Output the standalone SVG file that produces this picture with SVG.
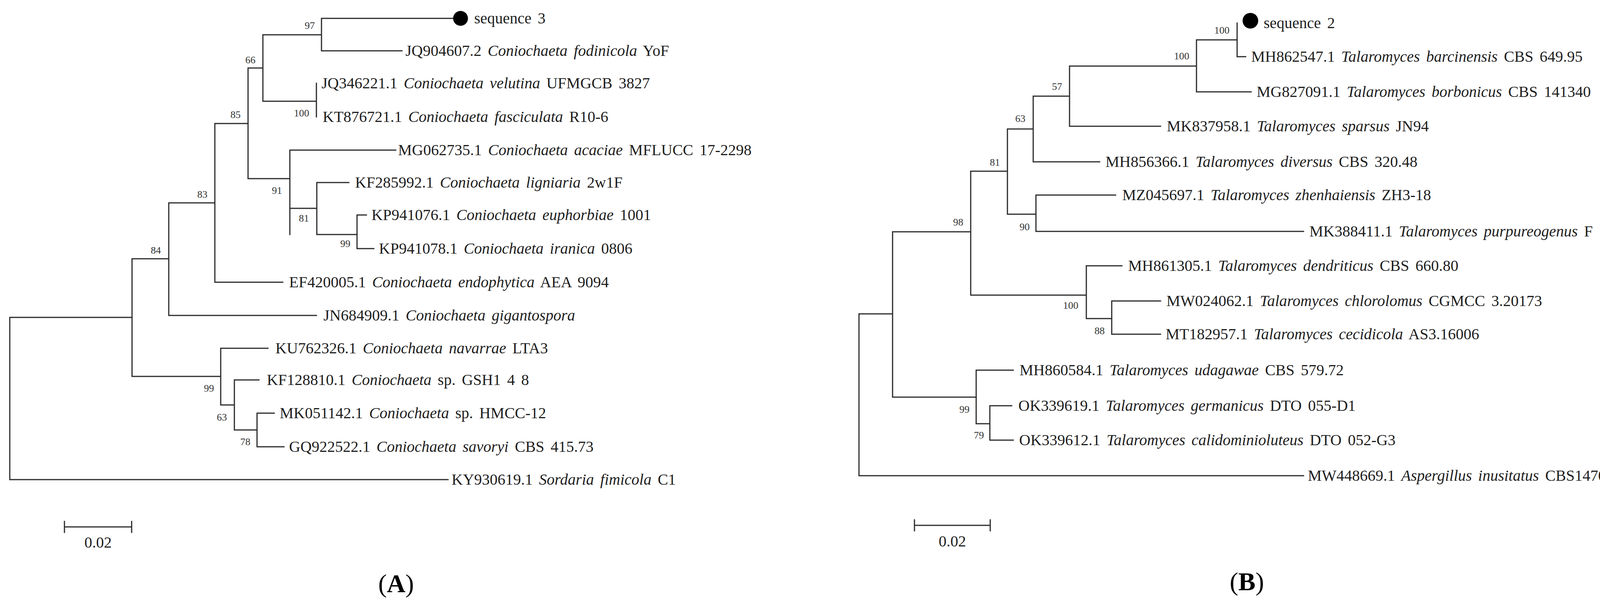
<svg xmlns="http://www.w3.org/2000/svg" width="4211" height="1535" viewBox="0 0 4211 1535">
<style>
.e{stroke:#2a2a2a;stroke-width:3;fill:none;stroke-linecap:square}
.l{font-family:"Liberation Serif",serif;font-size:40px;word-spacing:6px;fill:#1e1e1e}
.b{font-family:"Liberation Serif",serif;font-size:26px;fill:#333;text-anchor:middle}
.i{font-style:italic}
.p{font-family:"Liberation Serif",serif;font-size:66px;fill:#000;text-anchor:middle}
</style>
<rect width="4211" height="1535" fill="#fff"/>
<g id="connectors">
<path class="e" d="M25,812V1227M25,812H338M25,1227H1147
M338,662V963M338,662H432M338,963H565
M432,519V807M432,519H550M432,807H810
M550,316V722M550,316H635M550,722H724
M635,174V457M635,174H673M635,457H742
M673,89V259M673,89H823M673,259H810
M823,47V130M823,47H1160M823,130H1029
M810,213V299
M742,384V600M742,384H1013M742,533H811
M811,467V600M811,467H893M811,600H914
M914,550V636M914,550H938M914,636H957
M565,891V1036M565,891H686M565,1036H600
M600,972V1100M600,972H663M600,1100H658
M658,1057V1143M658,1057H702M658,1143H727
M165,1334V1362M337,1334V1362M165,1348H337"/>
<path class="e" d="M2199,803V1217M2199,803H2285M2199,1217H3337
M2285,593V1016M2285,593H2485M2285,1016H2499
M2485,438V755M2485,438H2579M2485,755H2781
M2579,330V548M2579,330H2645M2579,548H2652
M2645,246V414M2645,246H2738M2645,414H2815
M2738,169V323M2738,169H3063M2738,323H2971
M3063,102V235M3063,102H3167M3063,235H3203
M3167,59V145M3167,145H3189
M2652,499V592M2652,499H2856M2652,592H3337
M2781,680V815M2781,680H2872M2781,815H2846
M2846,770V855M2846,770H2971M2846,855H2971
M2499,947V1084M2499,947H2594M2499,1084H2534
M2534,1038V1126M2534,1038H2590M2534,1126H2594
M2341,1330V1358M2535,1330V1358M2341,1344H2535"/>
</g>
<g id="panelA">
<g id="seq3"><circle cx="1179" cy="47" r="19" fill="#000"/><text class="l" x="1214" y="60" font-size="36">sequence 3</text></g>
<g id="a1"><text class="l" x="1038" y="143">JQ904607.2 <tspan class="i">Coniochaeta fodinicola</tspan> YoF</text></g>
<g id="a2"><text class="l" x="823" y="226">JQ346221.1 <tspan class="i">Coniochaeta velutina</tspan> UFMGCB 3827</text></g>
<g id="a3"><text class="l" x="826" y="312">KT876721.1 <tspan class="i">Coniochaeta fasciculata</tspan> R10-6</text></g>
<g id="a4"><text class="l" x="1019" y="397">MG062735.1 <tspan class="i">Coniochaeta acaciae</tspan> MFLUCC 17-2298</text></g>
<g id="a5"><text class="l" x="909" y="480">KF285992.1 <tspan class="i">Coniochaeta ligniaria</tspan> 2w1F</text></g>
<g id="a6"><text class="l" x="951" y="563">KP941076.1 <tspan class="i">Coniochaeta euphorbiae</tspan> 1001</text></g>
<g id="a7"><text class="l" x="970" y="649">KP941078.1 <tspan class="i">Coniochaeta iranica</tspan> 0806</text></g>
<g id="a8"><text class="l" x="740" y="735">EF420005.1 <tspan class="i">Coniochaeta endophytica</tspan> AEA 9094</text></g>
<g id="a9"><text class="l" x="828" y="820">JN684909.1 <tspan class="i">Coniochaeta gigantospora</tspan></text></g>
<g id="a10"><text class="l" x="705" y="904">KU762326.1 <tspan class="i">Coniochaeta navarrae</tspan> LTA3</text></g>
<g id="a11"><text class="l" x="683" y="985">KF128810.1 <tspan class="i">Coniochaeta</tspan> sp. GSH1 4 8</text></g>
<g id="a12"><text class="l" x="716" y="1070">MK051142.1 <tspan class="i">Coniochaeta</tspan> sp. HMCC-12</text></g>
<g id="a13"><text class="l" x="740" y="1156">GQ922522.1 <tspan class="i">Coniochaeta savoryi</tspan> CBS 415.73</text></g>
<g id="a14"><text class="l" x="1156" y="1240">KY930619.1 <tspan class="i">Sordaria fimicola</tspan> C1</text></g>
<g id="bsA">
<text class="b" x="793" y="74">97</text><text class="b" x="641" y="162">66</text><text class="b" x="772" y="298">100</text>
<text class="b" x="603" y="302">85</text><text class="b" x="709" y="496">91</text><text class="b" x="518" y="506">83</text>
<text class="b" x="778" y="567">81</text><text class="b" x="884" y="632">99</text><text class="b" x="399" y="649">84</text>
<text class="b" x="535" y="1002">99</text><text class="b" x="568" y="1076">63</text><text class="b" x="628" y="1139">78</text>
</g>
<text class="l" x="251" y="1401" text-anchor="middle" font-size="34">0.02</text>
<text class="p" x="1014" y="1515">(<tspan font-weight="bold">A</tspan>)</text>
</g>
<g id="panelB">
<g id="seq2"><circle cx="3201" cy="53" r="20" fill="#000"/><text class="l" x="3235" y="72" font-size="36">sequence 2</text></g>
<g id="b1"><text class="l" x="3203" y="158">MH862547.1 <tspan class="i">Talaromyces barcinensis</tspan> CBS 649.95</text></g>
<g id="b2"><text class="l" x="3217" y="248">MG827091.1 <tspan class="i">Talaromyces borbonicus</tspan> CBS 141340</text></g>
<g id="b3"><text class="l" x="2987" y="336">MK837958.1 <tspan class="i">Talaromyces sparsus</tspan> JN94</text></g>
<g id="b4"><text class="l" x="2830" y="427">MH856366.1 <tspan class="i">Talaromyces diversus</tspan> CBS 320.48</text></g>
<g id="b5"><text class="l" x="2873" y="512">MZ045697.1 <tspan class="i">Talaromyces zhenhaiensis</tspan> ZH3-18</text></g>
<g id="b6"><text class="l" x="3352" y="605">MK388411.1 <tspan class="i">Talaromyces purpureogenus</tspan> F</text></g>
<g id="b7"><text class="l" x="2888" y="693">MH861305.1 <tspan class="i">Talaromyces dendriticus</tspan> CBS 660.80</text></g>
<g id="b8"><text class="l" x="2986" y="783">MW024062.1 <tspan class="i">Talaromyces chlorolomus</tspan> CGMCC 3.20173</text></g>
<g id="b9"><text class="l" x="2984" y="868">MT182957.1 <tspan class="i">Talaromyces cecidicola</tspan> AS3.16006</text></g>
<g id="b10"><text class="l" x="2610" y="960">MH860584.1 <tspan class="i">Talaromyces udagawae</tspan> CBS 579.72</text></g>
<g id="b11"><text class="l" x="2607" y="1051">OK339619.1 <tspan class="i">Talaromyces germanicus</tspan> DTO 055-D1</text></g>
<g id="b12"><text class="l" x="2609" y="1139">OK339612.1 <tspan class="i">Talaromyces calidominioluteus</tspan> DTO 052-G3</text></g>
<g id="b13"><text class="l" x="3348" y="1230">MW448669.1 <tspan class="i">Aspergillus inusitatus</tspan> CBS147044</text></g>
<g id="bsB">
<text class="b" x="3128" y="86">100</text><text class="b" x="3025" y="152">100</text><text class="b" x="2706" y="230">57</text>
<text class="b" x="2612" y="312">63</text><text class="b" x="2547" y="424">81</text><text class="b" x="2453" y="577">98</text>
<text class="b" x="2623" y="589">90</text><text class="b" x="2741" y="790">100</text><text class="b" x="2815" y="855">88</text>
<text class="b" x="2469" y="1056">99</text><text class="b" x="2506" y="1122">79</text>
</g>
<text class="l" x="2438" y="1398" text-anchor="middle" font-size="34">0.02</text>
<text class="p" x="3192" y="1510">(<tspan font-weight="bold">B</tspan>)</text>
</g>
</svg>
